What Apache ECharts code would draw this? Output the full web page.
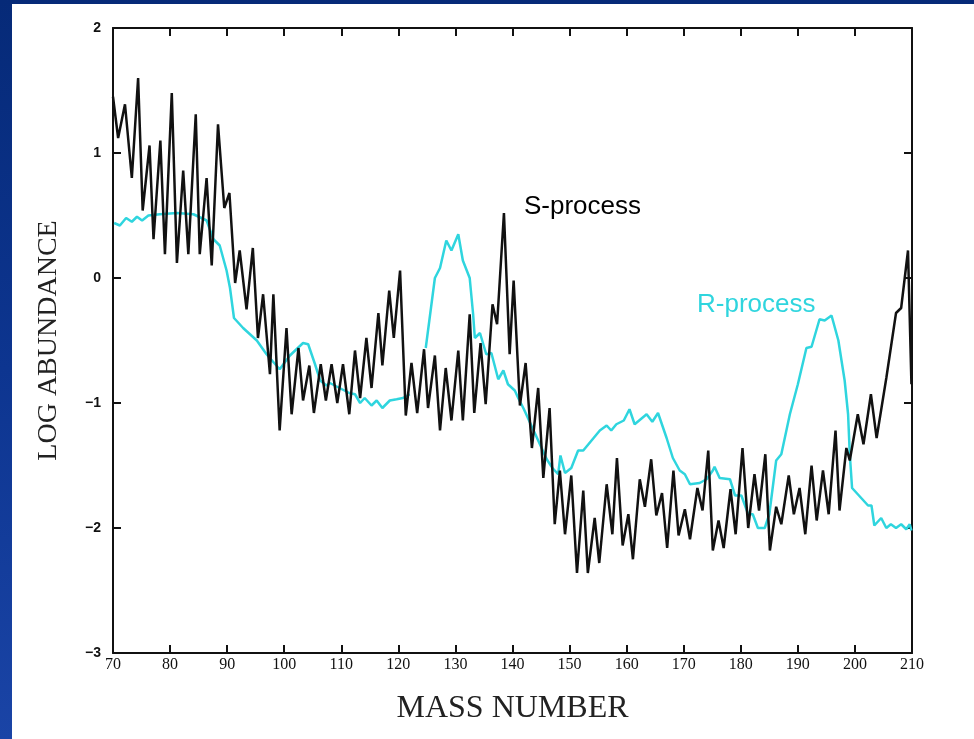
<!DOCTYPE html>
<html>
<head>
<meta charset="utf-8">
<script src="https://cdn.jsdelivr.net/npm/echarts@6/dist/echarts.min.js"></script>
<style>
	html, body {
		margin: 0;
		padding: 0;
		width: 974px;
		height: 739px;
		overflow: hidden;
		background: linear-gradient(180deg, #062a78 0%, #0d3590 50%, #1a44a6 100%);
	}
	#main {
		position: absolute;
		left: 12px;
		top: 4px;
		width: 962px;
		height: 735px;
		background: #fff;
	}
</style>
</head>
<body>
<div id="main"></div>
<script type="text/javascript">
	// s-process curve (mass number, log abundance)
	var sMass = [70.0, 70.9, 72.1, 73.3, 74.4, 75.2, 76.4, 77.1, 78.3, 79.1, 80.3, 81.2, 82.3, 83.2, 84.5, 85.2,
		86.4, 87.3, 88.4, 89.5, 90.4, 91.4, 92.2, 93.4, 94.5, 95.4, 96.3, 97.5, 98.1, 99.2, 100.4, 101.3,
		102.5, 103.3, 104.4, 105.2, 106.4, 107.3, 108.3, 109.3, 110.3, 111.4, 112.4, 113.3, 114.4, 115.3,
		116.5, 117.2, 118.4, 119.2, 120.3, 121.3, 122.3, 123.3, 124.5, 125.2, 126.4, 127.3, 128.3, 129.3,
		130.5, 131.3, 132.5, 133.3, 134.4, 135.3, 136.5, 137.3, 138.5, 139.5, 140.2, 141.3, 142.3, 143.4,
		144.5, 145.4, 146.5, 147.4, 148.3, 149.2, 150.3, 151.3, 152.4, 153.2, 154.4, 155.2, 156.5, 157.5,
		158.3, 159.3, 160.3, 161.1, 162.3, 163.2, 164.3, 165.2, 166.2, 167.1, 168.2, 169.1, 170.2, 171.1,
		172.4, 173.3, 174.3, 175.1, 176.1, 177.0, 178.2, 179.1, 180.3, 181.3, 182.4, 183.2, 184.3, 185.1,
		186.2, 187.1, 188.4, 189.3, 190.3, 191.3, 192.4, 193.3, 194.4, 195.4, 196.6, 197.3, 198.5, 199.1,
		200.5, 201.5, 202.8, 203.8, 205.5, 207.2, 208.1, 209.3, 209.9];
	var sLog = [1.45, 1.12, 1.39, 0.80, 1.60, 0.54, 1.06, 0.31, 1.10, 0.19, 1.48, 0.12, 0.86, 0.19, 1.31, 0.19,
		0.80, 0.10, 1.23, 0.56, 0.68, -0.04, 0.22, -0.25, 0.24, -0.48, -0.13, -0.77, -0.13, -1.22, -0.40, -1.09,
		-0.56, -0.98, -0.70, -1.08, -0.69, -0.98, -0.69, -1.00, -0.69, -1.09, -0.58, -0.96, -0.48, -0.88,
		-0.28, -0.70, -0.10, -0.48, 0.06, -1.10, -0.68, -1.08, -0.57, -1.04, -0.62, -1.22, -0.72, -1.14,
		-0.58, -1.14, -0.29, -1.08, -0.52, -1.01, -0.21, -0.37, 0.52, -0.61, -0.02, -1.02, -0.68, -1.36,
		-0.88, -1.60, -1.04, -1.97, -1.54, -2.05, -1.58, -2.36, -1.70, -2.36, -1.92, -2.28, -1.65, -2.05,
		-1.44, -2.14, -1.89, -2.25, -1.61, -1.83, -1.45, -1.90, -1.72, -2.16, -1.54, -2.06, -1.85, -2.09,
		-1.68, -1.86, -1.38, -2.18, -1.94, -2.16, -1.69, -2.05, -1.36, -2.00, -1.57, -1.86, -1.41, -2.18,
		-1.83, -1.97, -1.58, -1.89, -1.68, -2.05, -1.50, -1.94, -1.54, -1.89, -1.22, -1.86, -1.36, -1.46,
		-1.09, -1.33, -0.93, -1.28, -0.80, -0.28, -0.24, 0.22, -0.85];

	// r-process curve (null = gap in the trace)
	var rMass = [70.2, 71.2, 72.3, 73.3, 74.2, 75.1, 76.2, 78.2, 81.2, 84.1, 86.4, 87.6, 88.7, 89.9, 90.5,
		91.2, 92.8, 95.2, 96.9, 99.2, 101.0, 103.3, 104.2, 105.4, 106.3, 107.4, 108.0, 111.4, 112.4, 113.3,
		114.1, 115.3, 116.2, 117.2, 118.5, 119.7, 120.8, 122.0, 123.4, 124.8, 126.4, 127.3, 128.4, 129.3,
		130.5, 131.3, 132.5, 133.1, 133.4, 134.3, 135.4, 136.3, 137.5, 138.4, 139.2, 140.4, 141.0, 142.0,
		143.0, 144.0, 145.0, 146.0, 147.0, 148.0, 148.4, 149.2, 150.3, 151.5, 152.4, 155.3, 156.5, 157.3,
		158.2, 159.5, 160.5, 161.4, 163.5, 164.5, 165.5, 167.0, 168.1, 169.3, 170.2, 171.1, 172.8, 174.0,
		175.1, 175.4, 176.3, 178.1, 179.0, 180.1, 181.3, 182.1, 183.0, 184.2, 185.0, 186.2, 187.1, 188.6,
		190.0, 191.5, 192.4, 193.8, 194.7, 195.9, 197.1, 198.2, 198.8, 199.1, 199.5, 200.5, 202.3, 202.9,
		203.4, 204.6, 205.5, 206.3, 207.2, 208.1, 209.0, 209.6, 209.9];
	var rLog = [0.44, 0.42, 0.48, 0.45, 0.49, 0.46, 0.50, 0.51, 0.52, 0.51, 0.46, 0.31, 0.26, 0.06, -0.08,
		-0.32, -0.40, -0.50, -0.61, -0.73, -0.62, -0.52, -0.53, -0.69, -0.82, -0.86, -0.84, -0.92, -0.93, -1.00,
		-0.96, -1.02, -0.98, -1.04, -0.98, -0.97, -0.96, -0.93, null, -0.56, 0.00, 0.08, 0.30, 0.22,
		0.35, 0.14, 0.00, -0.29, -0.48, -0.44, -0.61, -0.60, -0.81, -0.74, -0.85, -0.90, -0.96, -1.05,
		-1.15, -1.25, -1.35, -1.45, -1.52, -1.57, -1.42, -1.56, -1.52, -1.38, -1.38, -1.22, -1.18, -1.22,
		-1.17, -1.14, -1.05, -1.17, -1.09, -1.15, -1.08, -1.28, -1.44, -1.54, -1.57, -1.65, -1.64, -1.61,
		-1.54, -1.51, -1.60, -1.61, -1.74, -1.74, -1.89, -1.89, -2.00, -2.00, -1.89, -1.46, -1.41, -1.09,
		-0.85, -0.56, -0.55, -0.33, -0.34, -0.30, -0.50, -0.82, -1.09, -1.41, -1.68, -1.73, -1.82, -1.82,
		-1.98, -1.92, -2.00, -1.97, -2.00, -1.97, -2.01, -1.97, -2.02];

	var xTicks = [70, 80, 90, 100, 110, 120, 130, 140, 150, 160, 170, 180, 190, 200, 210];
	var yTicks = [-3, -2, -1, 0, 1, 2];

	function pairs(xs, ys) {
		var out = [];
		for (var i = 0; i < xs.length; i++) {
			out.push([xs[i], ys[i] === null ? '-' : ys[i]]);
		}
		return out;
	}

	var myChart = echarts.init(document.getElementById('main'));

	var frameLine = { show: true, onZero: false, lineStyle: { color: '#111', width: 2 } };
	var tickIn = { show: true, inside: true, length: 8, lineStyle: { color: '#111', width: 2 } };

	var option = {
		animation: false,
		backgroundColor: '#fff',
		grid: { left: 101, right: 62, top: 24, bottom: 86, containLabel: false, outerBoundsMode: 'none' },
		xAxis: [
			{
				type: 'value',
				min: xTicks[0],
				max: xTicks[xTicks.length - 1],
				interval: 10,
				name: 'MASS NUMBER',
				nameLocation: 'middle',
				nameGap: 40,
				nameTextStyle: { fontFamily: 'Liberation Serif', fontSize: 32, color: '#222' },
				axisLine: frameLine,
				axisTick: tickIn,
				splitLine: { show: false },
				axisLabel: { fontFamily: 'Liberation Serif', fontSize: 16, color: '#111', margin: 4 }
			},
			{
				type: 'value',
				position: 'top',
				min: xTicks[0],
				max: xTicks[xTicks.length - 1],
				interval: 10,
				axisLine: frameLine,
				axisTick: tickIn,
				splitLine: { show: false },
				axisLabel: { show: false }
			}
		],
		yAxis: [
			{
				type: 'value',
				min: yTicks[0],
				max: yTicks[yTicks.length - 1],
				interval: 1,
				name: 'LOG ABUNDANCE',
				nameLocation: 'middle',
				nameGap: 50,
				nameRotate: 90,
				nameTextStyle: { fontFamily: 'Liberation Serif', fontSize: 28, color: '#222' },
				axisLine: frameLine,
				axisTick: tickIn,
				splitLine: { show: false },
				axisLabel: {
					fontFamily: 'Liberation Sans', fontWeight: 'bold', fontSize: 14, color: '#111', margin: 12,
					formatter: function (v) { return v < 0 ? '\u2212' + Math.abs(v) : String(v); }
				}
			},
			{
				type: 'value',
				position: 'right',
				min: yTicks[0],
				max: yTicks[yTicks.length - 1],
				interval: 1,
				axisLine: frameLine,
				axisTick: tickIn,
				splitLine: { show: false },
				axisLabel: { show: false }
			}
		],
		series: [
			{
				name: 'S-process',
				type: 'line',
				data: pairs(sMass, sLog),
				showSymbol: false,
				lineStyle: { color: '#111', width: 2.5 },
				z: 3
			},
			{
				name: 'R-process',
				type: 'line',
				data: pairs(rMass, rLog),
				showSymbol: false,
				connectNulls: false,
				lineStyle: { color: '#2fd5de', width: 2.5 },
				z: 2
			}
		],
		graphic: [
			{
				type: 'text', left: 512, top: 190,
				style: { text: 'S-process', fill: '#000', font: '26px "Liberation Sans"' }
			},
			{
				type: 'text', left: 685, top: 288,
				style: { text: 'R-process', fill: '#2fd5de', font: '26px "Liberation Sans"' }
			}
		]
	};

	myChart.setOption(option);
</script>
</body>
</html>
